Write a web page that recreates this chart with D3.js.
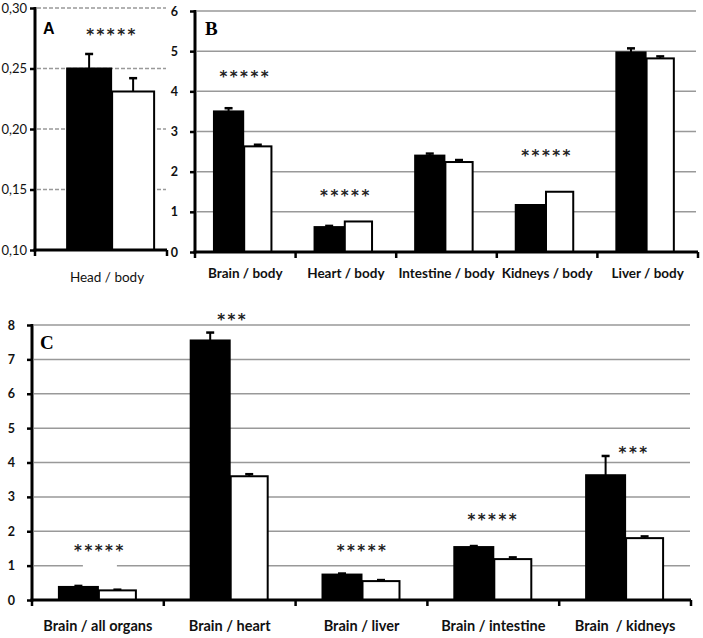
<!DOCTYPE html>
<html><head><meta charset="utf-8">
<script src="https://cdn.jsdelivr.net/npm/d3@7/dist/d3.min.js"></script>
<style>
body{margin:0;background:#fff;}
svg{display:block;}
</style></head>
<body>
<svg id="chart" width="703" height="638"></svg>
<script>
// ---------- Data ----------
// Panel A
const catsA = ["Head / body"];
const blackA = [0.250];
const blackErrA = [0.012];
const whiteA = [0.231];
const whiteErrA = [0.011];
const starsA = ["*****"];
const starLevelA = [0.281];
const ticksA = [0.10, 0.15, 0.20, 0.25, 0.30];

// Panel B
const catsB = ["Brain / body", "Heart / body", "Intestine / body", "Kidneys / body", "Liver / body"];
const blackB = [3.50, 0.62, 2.40, 1.17, 4.97];
const blackErrB = [0.08, 0.03, 0.05, 0.00, 0.10];
const whiteB = [2.63, 0.76, 2.24, 1.50, 4.82];
const whiteErrB = [0.04, 0.00, 0.05, 0.00, 0.05];
const starsB = ["*****", "*****", "", "*****", ""];
const starLevelB = [4.45, 1.49, 0, 2.49, 0];
const ticksB = [0, 1, 2, 3, 4, 5, 6];

// Panel C
const catsC = ["Brain / all organs", "Brain / heart", "Brain / liver", "Brain / intestine", "Brain  / kidneys"];
const blackC = [0.38, 7.55, 0.74, 1.54, 3.63];
const blackErrC = [0.03, 0.23, 0.03, 0.03, 0.56];
const whiteC = [0.28, 3.60, 0.55, 1.19, 1.80];
const whiteErrC = [0.02, 0.06, 0.03, 0.05, 0.05];
const starsC = ["*****", "***", "*****", "*****", "***"];
const starLevelC = [1.55, 8.25, 1.55, 2.45, 4.38];
const ticksC = [0, 1, 2, 3, 4, 5, 6, 7, 8];

// ---------- Drawing ----------
const svg = d3.select("#chart");
const seriesKeys = ["black", "white"];

function panel(cfg) {
  const g = svg.append("g");
  const y = d3.scaleLinear().domain(cfg.yDomain).range([cfg.yBottom, cfg.yTop]);
  const x = d3.scaleBand().domain(cfg.cats).range([cfg.x0, cfg.x1]).paddingInner(0).paddingOuter(0);
  const xs = d3.scaleBand().domain(seriesKeys).range([0, x.bandwidth()])
    .paddingInner(0).paddingOuter(cfg.subPad).align(cfg.align);

  // gridlines
  g.append("g").selectAll("line").data(cfg.ticks.filter(t => t !== cfg.yDomain[0])).join("line")
    .attr("x1", cfg.x0 + 2).attr("x2", cfg.gridEnd)
    .attr("y1", d => y(d)).attr("y2", d => y(d))
    .attr("stroke", cfg.gridColor).attr("stroke-width", cfg.gridWidth)
    .attr("stroke-dasharray", cfg.gridDash || null);

  const rows = cfg.cats.map((c, i) => ({
    cat: c,
    vals: [
      {key: "black", v: cfg.black[i], e: cfg.blackErr[i]},
      {key: "white", v: cfg.white[i], e: cfg.whiteErr[i]}
    ]
  }));

  // stars (with white label background like the original)
  const starData = cfg.cats.map((c, i) => ({c, s: cfg.stars[i], l: cfg.starLevel[i], dx: (cfg.starDx || [])[i] || 0})).filter(d => d.s);
  const st = g.append("g").selectAll("g").data(starData).join("g");
  if (cfg.starBg) {
    st.filter((d, i) => cfg.starBg[cfg.cats.indexOf(d.c)]).append("rect")
      .attr("x", d => x(d.c) + x.bandwidth() / 2 + d.dx - 17)
      .attr("width", 34)
      .attr("y", d => y(d.l) + 8).attr("height", 14)
      .attr("fill", "#fff");
  }
  st.append("text")
    .attr("x", d => x(d.c) + x.bandwidth() / 2 + d.dx + (cfg.starShift || 0))
    .attr("y", d => y(d.l) + 9)
    .attr("text-anchor", "middle")
    .attr("font-family", "DejaVu Sans")
    .attr("font-size", 15)
    .attr("font-weight", "bold")
    .attr("letter-spacing", 2.5)
    .attr("fill", "#222")
    .text(d => d.s);

  const cg = g.append("g").selectAll("g").data(rows).join("g")
    .attr("transform", d => `translate(${x(d.cat)},0)`);

  // error bars (upward only)
  const eb = cg.selectAll("g.eb").data(d => d.vals.filter(v => v.e > 0)).join("g").attr("class", "eb");
  eb.append("line")
    .attr("x1", d => xs(d.key) + xs.bandwidth() / 2).attr("x2", d => xs(d.key) + xs.bandwidth() / 2)
    .attr("y1", d => y(d.v)).attr("y2", d => y(d.v + d.e))
    .attr("stroke", "#000").attr("stroke-width", 2);
  eb.append("line")
    .attr("x1", d => xs(d.key) + xs.bandwidth() / 2 - 4).attr("x2", d => xs(d.key) + xs.bandwidth() / 2 + 4)
    .attr("y1", d => y(d.v + d.e)).attr("y2", d => y(d.v + d.e))
    .attr("stroke", "#000").attr("stroke-width", 2.5);

  // bars
  cg.selectAll("rect").data(d => d.vals).join("rect")
    .attr("x", d => xs(d.key) + (d.key === "white" ? 1 : 0))
    .attr("width", d => xs.bandwidth() - (d.key === "white" ? 2 : 0))
    .attr("y", d => y(d.v))
    .attr("height", d => y(cfg.yDomain[0]) - y(d.v))
    .attr("fill", d => d.key === "black" ? "#000" : "#fff")
    .attr("stroke", "#000").attr("stroke-width", 2);

  // y axis
  const yAxis = d3.axisLeft(y).tickValues(cfg.ticks).tickSize(5).tickPadding(cfg.tickPad).tickFormat(cfg.fmt);
  const ya = g.append("g").attr("transform", `translate(${cfg.x0},0)`).call(yAxis);
  ya.select(".domain").remove();
  ya.selectAll(".tick line").attr("stroke", "#000").attr("stroke-width", 2.5);
  ya.selectAll(".tick text")
    .attr("font-family", "Lato").attr("font-size", cfg.tickSize).attr("font-weight", cfg.tickWeight)
    .attr("fill", "#111");
  g.append("line").attr("x1", cfg.x0).attr("x2", cfg.x0)
    .attr("y1", cfg.yTop - 1).attr("y2", cfg.yBottom + 1.5)
    .attr("stroke", "#000").attr("stroke-width", 3);

  // x axis
  g.append("line").attr("x1", cfg.x0 - 1.5).attr("x2", cfg.x1)
    .attr("y1", cfg.yBottom).attr("y2", cfg.yBottom)
    .attr("stroke", "#000").attr("stroke-width", 3);
  const bounds = cfg.cats.map(c => x(c)).concat([cfg.x1]);
  g.append("g").selectAll("line").data(bounds).join("line")
    .attr("x1", d => d).attr("x2", d => d)
    .attr("y1", cfg.yBottom).attr("y2", cfg.yBottom + 6)
    .attr("stroke", "#000").attr("stroke-width", 2.5);
  g.append("g").selectAll("text").data(cfg.cats).join("text")
    .attr("x", d => x(d) + x.bandwidth() / 2 + (cfg.labelShift || 0))
    .attr("y", cfg.labelY)
    .attr("text-anchor", "middle")
    .attr("font-family", "Lato").attr("font-size", cfg.labelSize)
    .attr("font-weight", cfg.labelWeight)
    .attr("fill", "#111")
    .style("white-space", "pre")
    .text(d => d);

  // panel letter
  g.append("text").attr("x", cfg.letterX).attr("y", cfg.letterY)
    .attr("font-family", cfg.letterFont).attr("font-weight", "bold")
    .attr("font-size", cfg.letterSize).attr("fill", "#000").text(cfg.letter);
}

panel({
  cats: catsA, black: blackA, blackErr: blackErrA, white: whiteA, whiteErr: whiteErrA,
  stars: starsA, starLevel: starLevelA, ticks: ticksA, starShift: 11,
  yDomain: [0.10, 0.30], yTop: 8, yBottom: 250, x0: 35, x1: 167, gridEnd: 166,
  subPad: 0.5, align: 0.73,
  gridColor: "#999", gridWidth: 1.5, gridDash: "4,2",
  fmt: d => d3.format(".2f")(d).replace(".", ","), tickPad: 3, tickWeight: "normal", tickSize: 13,
  labelY: 282, labelSize: 13.5, labelWeight: "normal", labelShift: 6,
  letter: "A", letterX: 43, letterY: 34, letterFont: "Liberation Sans", letterSize: 16
});

panel({
  cats: catsB, black: blackB, blackErr: blackErrB, white: whiteB, whiteErr: whiteErrB,
  stars: starsB, starLevel: starLevelB, ticks: ticksB,
  yDomain: [0, 6], yTop: 11, yBottom: 252, x0: 195, x1: 698, gridEnd: 696,
  subPad: 0.72, align: 0.45,
  gridColor: "#999", gridWidth: 1.5,
  fmt: d3.format("d"), tickPad: 12, tickWeight: "bold", tickSize: 12.5,
  labelY: 278, labelSize: 13.5, labelWeight: "bold",
  letter: "B", letterX: 205, letterY: 35, letterFont: "Liberation Serif", letterSize: 19
});

panel({
  cats: catsC, black: blackC, blackErr: blackErrC, white: whiteC, whiteErr: whiteErrC,
  stars: starsC, starLevel: starLevelC, ticks: ticksC, starDx: [2, 3, 1, 0, 9],
  starBg: [true, false, false, false, false],
  yDomain: [0, 8], yTop: 325, yBottom: 600, x0: 32, x1: 691, gridEnd: 690,
  subPad: 0.69, align: 0.5,
  gridColor: "#999", gridWidth: 1.5,
  fmt: d3.format("d"), tickPad: 12, tickWeight: "bold", tickSize: 12.5,
  labelY: 631, labelSize: 14.5, labelWeight: "bold",
  letter: "C", letterX: 40, letterY: 349, letterFont: "Liberation Serif", letterSize: 19
});
</script>
</body></html>
